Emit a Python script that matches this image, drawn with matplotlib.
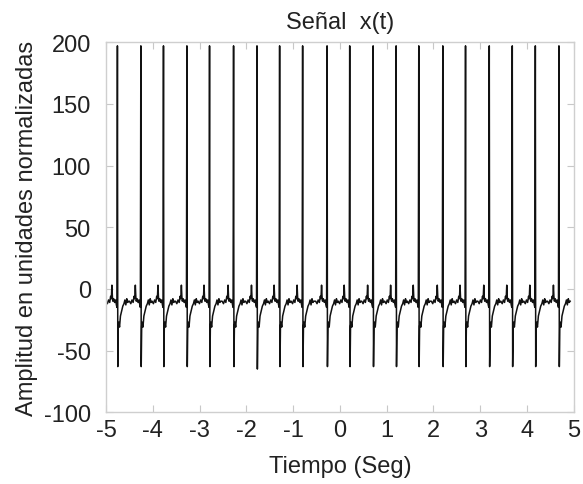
import numpy as np
import matplotlib
matplotlib.use("Agg")
import matplotlib.pyplot as plt

plt.rcParams['font.family'] = ['Liberation Sans', 'DejaVu Sans']
plt.rcParams['axes.unicode_minus'] = False

# times of the R spikes (s)
spike_times = [-4.758, -4.257, -3.773, -3.272, -2.788, -2.274, -1.773, -1.289,
               -0.797, -0.274, 0.210, 0.711, 1.203, 1.687, 2.201, 2.687,
               3.195, 3.687, 4.180, 4.685]
spike_tops = [197, 197, 197, 197, 197, 197, 197, 197, 197, 197,
              197, 197, 197, 197, 197, 197, 197, 197, 197, 197]
spike_bottoms = [-63, -63, -63, -63, -63, -63, -65, -63, -63, -63,
                 -63, -63, -63, -63, -63, -63, -63, -63, -63, -63]

# one beat around a spike: offset from spike (s) and amplitude
beat_offsets = [-0.245, -0.215, -0.19, -0.165, -0.145, -0.13, -0.118, -0.108,
                -0.098, -0.08, -0.06, -0.04, -0.022, -0.01, 0.0, 0.008,
                0.018, 0.03, 0.045, 0.065, 0.09, 0.115, 0.14, 0.16,
                0.18, 0.2, 0.22, 0.24]
beat_values = [-10, -12, -9, -11, -6, -8, 3, -6,
               -10, -8, -11, -9, -13, -15, None, None,
               -30, -27, -31, -22, -18, -14, -12, -9,
               -13, -8, -11, -10]

t, x = [], []
for ts, top, bot in zip(spike_times, spike_tops, spike_bottoms):
    for off, val in zip(beat_offsets, beat_values):
        if val is None:
            val = top if off == 0.0 else bot
        t.append(ts + off)
        x.append(val)
t = np.array(t)
x = np.array(x)

fig = plt.figure(figsize=(5.83, 4.85), dpi=100)
ax = fig.add_axes([0.182, 0.148, 0.802, 0.763])
ax.plot(t, x, color='#111111', lw=1.1)

ax.set_xlim(-5, 5)
ax.set_ylim(-100, 200)
ax.set_xticks(range(-5, 6))
ax.set_yticks(range(-100, 201, 50))

for s in ax.spines.values():
    s.set_color('#cfcfcf')
    s.set_linewidth(1.0)
ax.tick_params(direction='in', top=True, right=True, length=5,
               color='#c8c8c8', labelsize=17, labelcolor='#222222')
ax.tick_params(axis='y', pad=11)
ax.tick_params(axis='x', pad=5)

ax.set_title('Señal  x(t)', fontsize=17, color='#222222', pad=10)
ax.set_xlabel('Tiempo (Seg)', fontsize=17, color='#222222', labelpad=10)
ax.set_ylabel('Amplitud en unidades normalizadas', fontsize=17,
              color='#222222', labelpad=4)

fig.savefig('out.png', dpi=100)
